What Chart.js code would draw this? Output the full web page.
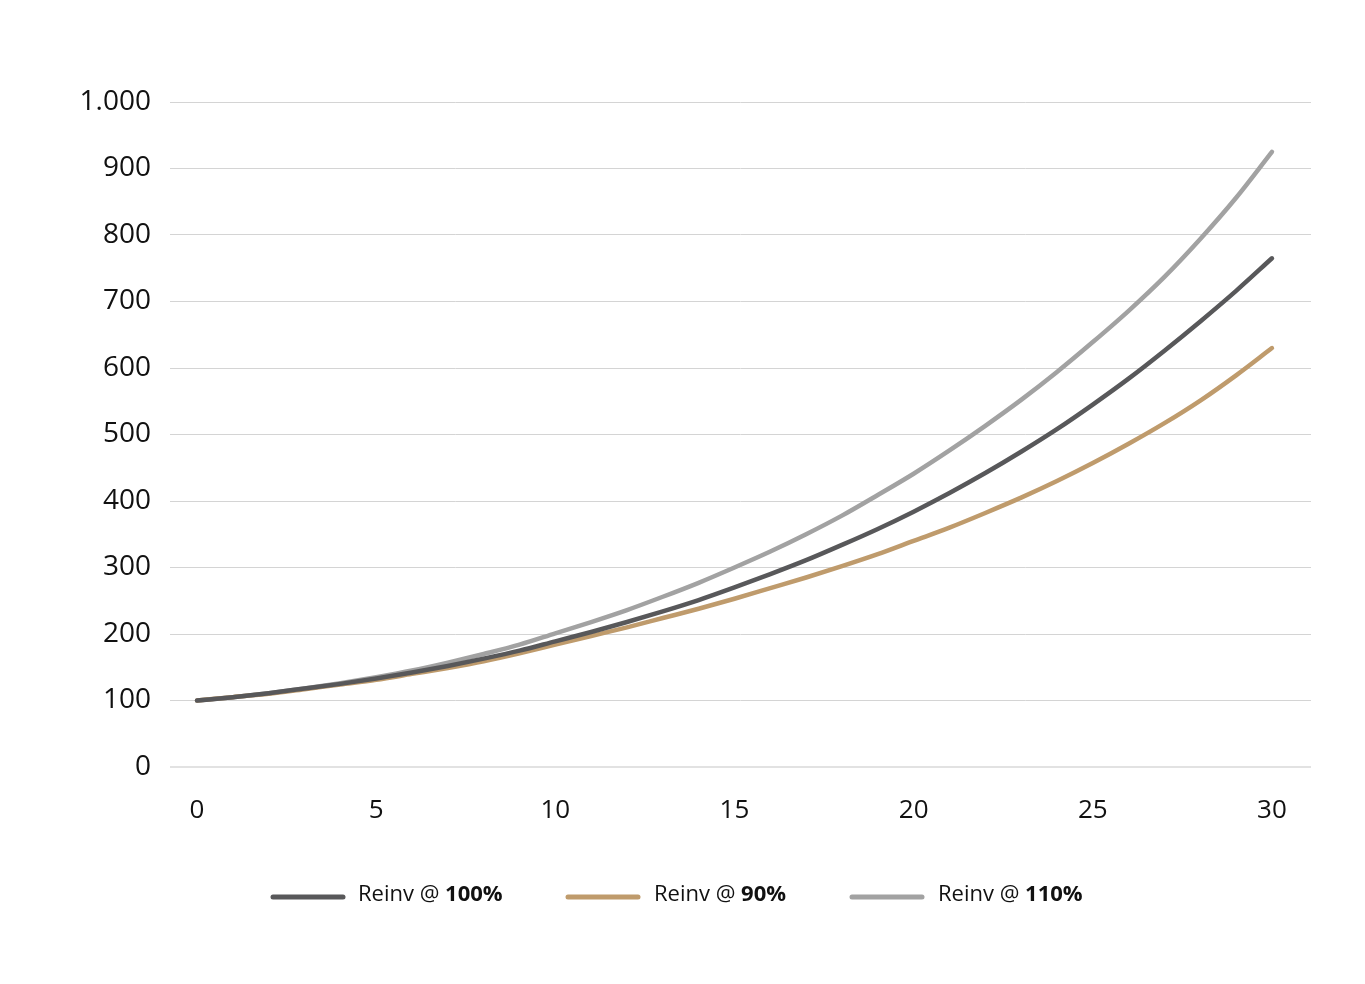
<!DOCTYPE html>
<html>
<head>
<meta charset="utf-8">
<title>Reinvestment chart</title>
<script src="https://cdn.jsdelivr.net/npm/chart.js@4/dist/chart.umd.min.js"></script>
<style>
  html, body { margin: 0; padding: 0; background: #fff; }
  #wrap { width: 1365px; height: 984px; position: relative; }
</style>
</head>
<body>
<div id="wrap"><canvas id="reinvChart"></canvas></div>
<script>
// years on the x axis
var years = [];
for (var i = 0; i <= 30; i++) years.push(i);

// values
var reinv100 = [100, 105, 111, 118, 125, 133, 142, 152, 163, 175, 189, 203, 218, 234, 251, 270, 290, 311, 334, 358, 384, 412, 442, 474, 508, 545, 584, 626, 670, 716, 765];
var reinv90  = [100, 105, 110, 117, 124, 131, 140, 149, 159, 171, 184, 197, 210, 224, 238, 253, 269, 285, 302, 320, 340, 360, 382, 405, 430, 457, 486, 517, 551, 589, 630];
var reinv110 = [100, 105, 111, 118, 126, 135, 145, 157, 170, 184, 201, 218, 236, 256, 277, 300, 324, 350, 378, 409, 441, 476, 513, 552, 594, 639, 686, 737, 794, 856, 925];

var seriesNames = ['Reinv @ ', 'Reinv @ ', 'Reinv @ '];
var seriesBold = ['100%', '90%', '110%'];
var seriesColors = ['#58585a', '#bf9b6c', '#a2a2a2'];
var xTicks = [0, 5, 10, 15, 20, 25, 30];

function toPoints(vals) {
    return vals.map(function(v, i) { return { x: years[i], y: v }; });
}

var FONT = "'Open Sans', 'Noto Sans', sans-serif";

// legend drawn on the canvas so the percentages can be bold
var legendPlugin = {
    id: 'customLegend',
    afterDraw: function(chart) {
        var ctx = chart.ctx;
        var lineStarts = [273, 568, 852];
        var textStarts = [358, 654, 938];
        var y = 897;
        ctx.save();
        for (var i = 0; i < seriesNames.length; i++) {
            ctx.strokeStyle = seriesColors[i];
            ctx.lineWidth = 5;
            ctx.lineCap = 'round';
            ctx.beginPath();
            ctx.moveTo(lineStarts[i], y);
            ctx.lineTo(lineStarts[i] + 70, y);
            ctx.stroke();

            ctx.fillStyle = '#111';
            ctx.textBaseline = 'middle';
            ctx.font = '400 22px ' + FONT;
            ctx.fillText(seriesNames[i], textStarts[i], y - 2);
            var w = ctx.measureText(seriesNames[i]).width;
            ctx.font = '700 22px ' + FONT;
            ctx.fillText(seriesBold[i], textStarts[i] + w, y - 2);
        }
        ctx.restore();
    }
};

document.addEventListener('DOMContentLoaded', function() {
    var data = {
        datasets: [{
            label: seriesNames[0] + seriesBold[0],
            data: toPoints(reinv100),
            borderColor: seriesColors[0]
        }, {
            label: seriesNames[1] + seriesBold[1],
            data: toPoints(reinv90),
            borderColor: seriesColors[1]
        }, {
            label: seriesNames[2] + seriesBold[2],
            data: toPoints(reinv110),
            borderColor: seriesColors[2]
        }]
    };

    var options = {
        responsive: true,
        maintainAspectRatio: false,
        animation: false,
        layout: { padding: { left: 0, right: 54, top: 102, bottom: 0 } },
        elements: {
            line: { borderWidth: 4.5, cubicInterpolationMode: 'monotone', borderCapStyle: 'round' },
            point: { radius: 0 }
        },
        plugins: {
            legend: { display: false },
            tooltip: { enabled: false }
        },
        scales: {
            x: {
                type: 'linear',
                min: -0.754,
                max: 31.09,
                afterBuildTicks: function(scale) {
                    scale.ticks = xTicks.map(function(v) { return { value: v }; });
                },
                afterFit: function(scale) { scale.height = 217; },
                grid: { display: false, drawTicks: false },
                border: { display: false },
                ticks: {
                    padding: 28,
                    color: '#111',
                    font: { family: FONT, size: 26 },
                    maxRotation: 0,
                    callback: function(v) { return v; }
                }
            },
            y: {
                min: 0,
                max: 1000,
                afterFit: function(scale) { scale.width = 170; },
                grid: {
                    drawTicks: false,
                    color: function(c) { return c.tick && c.tick.value === 0 ? '#e2e2e2' : '#d4d4d4'; },
                    lineWidth: function(c) { return c.tick && c.tick.value === 0 ? 2 : 1; }
                },
                border: { display: false },
                ticks: {
                    stepSize: 100,
                    padding: 19,
                    color: '#111',
                    font: { family: FONT, size: 28 },
                    callback: function(v) { return v >= 1000 ? '1.000' : String(v); }
                }
            }
        }
    };

    new Chart(document.getElementById('reinvChart'), {
        type: 'line',
        data: data,
        options: options,
        plugins: [legendPlugin]
    });
});
</script>
</body>
</html>
